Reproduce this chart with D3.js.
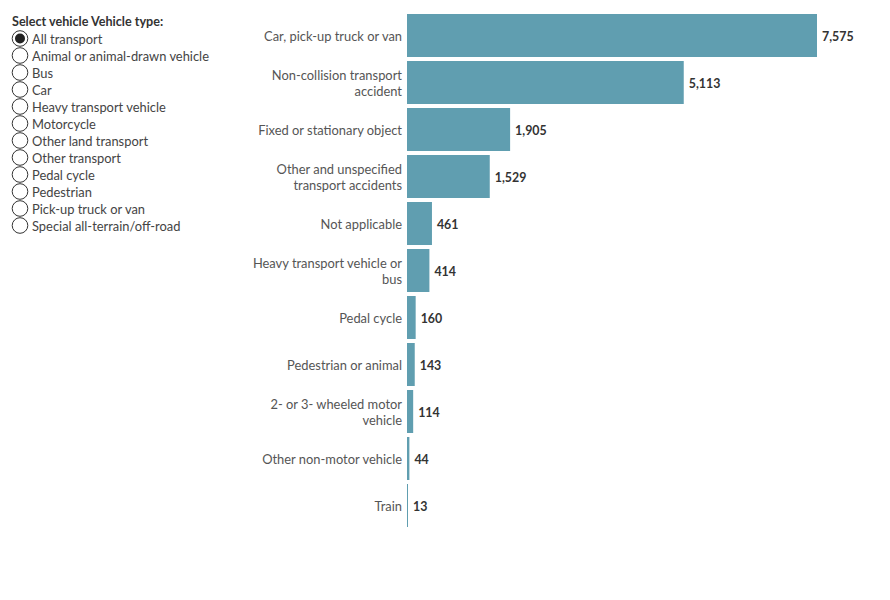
<!DOCTYPE html>
<html>
<head>
<meta charset="utf-8">
<script src="https://cdn.jsdelivr.net/npm/d3@7"></script>
<style>
  body { margin: 0; background: #fff; }
  svg { display: block; }
</style>
</head>
<body>
<div id="chart"></div>
<script>
const categories = [
  ['Car, pick-up truck or van'],
  ['Non-collision transport', 'accident'],
  ['Fixed or stationary object'],
  ['Other and unspecified', 'transport accidents'],
  ['Not applicable'],
  ['Heavy transport vehicle or', 'bus'],
  ['Pedal cycle'],
  ['Pedestrian or animal'],
  ['2- or 3- wheeled motor', 'vehicle'],
  ['Other non-motor vehicle'],
  ['Train']
];
const values = [7575, 5113, 1905, 1529, 461, 414, 160, 143, 114, 44, 13];
const filterOptions = [
  'All transport', 'Animal or animal-drawn vehicle', 'Bus', 'Car',
  'Heavy transport vehicle', 'Motorcycle', 'Other land transport',
  'Other transport', 'Pedal cycle', 'Pedestrian', 'Pick-up truck or van',
  'Special all-terrain/off-road'
];
const selected = 'All transport';

const width = 890;
const height = 600;
const fontFamily = 'Lato, "Noto Sans", sans-serif';
const barColor = '#609eb0';

const svg = d3.select('#chart')
  .append('svg')
    .attr('width', width)
    .attr('height', height);

// filter legend
const legend = svg.append('g').attr('transform', 'translate(12, 0)');
legend.append('text')
  .attr('x', 0)
  .attr('y', 25.5)
  .style('font', `bold 12.6px ${fontFamily}`)
  .attr('fill', '#333')
  .text('Select vehicle Vehicle type:');

const item = legend.selectAll('g.opt')
  .data(filterOptions)
  .join('g')
    .attr('class', 'opt')
    .attr('transform', (d, i) => `translate(0, ${38.5 + i * 17})`);

item.append('circle')
  .attr('cx', 8)
  .attr('cy', 0)
  .attr('r', 7.8)
  .attr('fill', '#fff')
  .attr('stroke', '#333')
  .attr('stroke-width', 1);

item.filter(d => d === selected)
  .append('circle')
  .attr('cx', 8)
  .attr('cy', 0)
  .attr('r', 5)
  .attr('fill', '#222');

item.append('text')
  .attr('x', 20)
  .attr('y', 5)
  .style('font', `12.9px ${fontFamily}`)
  .attr('fill', '#444')
  .text(d => d);

// bar chart
const x0 = 407;
const xScale = d3.scaleLinear()
  .domain([0, 7575])
  .range([x0, 817]);

const yScale = d3.scaleBand()
  .domain(d3.range(values.length))
  .range([12, 529])
  .paddingInner(4 / 47)
  .paddingOuter(2 / 47);

const rows = svg.append('g')
  .selectAll('g.row')
  .data(values)
  .join('g')
    .attr('class', 'row');

rows.append('rect')
  .attr('x', x0)
  .attr('y', (d, i) => yScale(i))
  .attr('width', d => Math.max(1, xScale(d) - x0))
  .attr('height', yScale.bandwidth())
  .attr('fill', barColor);

rows.append('text')
  .attr('x', d => Math.max(x0 + 1, xScale(d)) + 5)
  .attr('y', (d, i) => yScale(i) + yScale.bandwidth() / 2 + 5)
  .style('font', `bold 12.4px ${fontFamily}`)
  .attr('fill', '#333')
  .text(d => d3.format(',')(d));

const labels = svg.append('g')
  .selectAll('text.cat')
  .data(categories)
  .join('text')
    .attr('class', 'cat')
    .attr('text-anchor', 'end')
    .style('font', `12.9px ${fontFamily}`)
    .attr('fill', '#555');

labels.each(function (lines, i) {
  const cy = yScale(i) + yScale.bandwidth() / 2;
  const start = cy + 5.5 - (lines.length - 1) * 8;
  d3.select(this).selectAll('tspan')
    .data(lines)
    .join('tspan')
      .attr('x', 402)
      .attr('y', (d, j) => start + j * 16)
      .text(d => d);
});
</script>
</body>
</html>
